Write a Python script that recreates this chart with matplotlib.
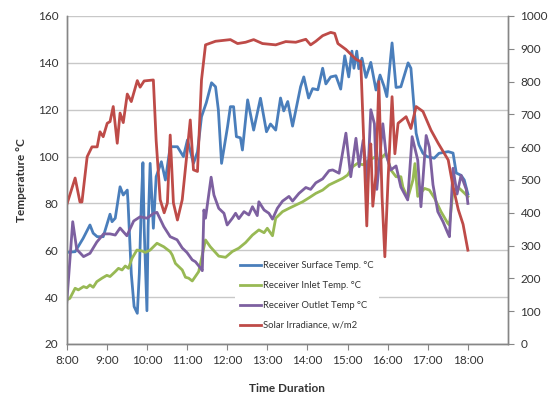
import matplotlib
matplotlib.use("Agg")
import matplotlib.pyplot as plt
from matplotlib.lines import Line2D

plt.rcParams['font.family'] = ['Lato', 'DejaVu Sans']

# Receiver surface temperature (deg C), time in decimal hours
surface_t = [8.00, 8.21, 8.41, 8.58, 8.66, 8.76, 8.91, 9.08, 9.13, 9.21, 9.33, 9.41, 9.51,
             9.53, 9.61, 9.68, 9.76, 9.81, 9.86, 9.90, 9.93, 10.00, 10.03, 10.08, 10.16,
             10.23, 10.36, 10.46, 10.58, 10.76, 10.91, 11.01, 11.16, 11.26, 11.36, 11.48,
             11.61, 11.71, 11.78, 11.86, 12.01, 12.08, 12.16, 12.23, 12.33, 12.38, 12.51,
             12.66, 12.83, 12.98, 13.08, 13.21, 13.33, 13.41, 13.51, 13.63, 13.83, 13.91,
             14.03, 14.13, 14.26, 14.38, 14.46, 14.58, 14.71, 14.83, 14.93, 15.03, 15.11,
             15.16, 15.23, 15.28, 15.36, 15.46, 15.58, 15.71, 15.81, 15.91, 15.98, 16.11,
             16.21, 16.33, 16.51, 16.58, 16.71, 16.78, 16.88, 16.98, 17.16, 17.28, 17.51,
             17.63, 17.71, 17.83, 17.91, 18.00]
surface_v = [59.1, 59.4, 65.1, 70.8, 67.3, 65.8, 65.8, 75.4, 72.2, 73.7, 87.1, 83.6, 85.7,
             80.0, 50.0, 36.0, 33.1, 50.0, 80.0, 97.4, 70.0, 34.2, 70.0, 97.1, 69.4,
             91.4, 97.8, 90.0, 104.2, 104.2, 100.0, 107.1, 97.1, 102.0, 117.0, 123.0,
             131.5, 129.8, 120.0, 97.1, 112.8, 121.3, 121.3, 108.5, 108.0, 102.8, 124.2,
             111.3, 124.9, 110.6, 113.9, 111.3, 125.0, 119.5, 123.5, 113.0, 129.8, 134.0,
             125.0, 129.0, 128.5, 137.7, 131.0, 134.0, 134.5, 128.8, 143.0, 134.0, 145.0,
             137.7, 145.0, 137.5, 142.0, 133.8, 140.2, 128.4, 134.8, 130.0, 125.6, 148.5,
             129.5, 129.8, 140.0, 137.7, 110.0, 105.0, 101.4, 100.0, 99.3, 101.4, 102.1,
             101.5, 93.0, 92.0, 90.0, 84.0]

# Receiver inlet temperature (deg C)
inlet_t = [8.00, 8.08, 8.21, 8.29, 8.42, 8.50, 8.58, 8.66, 8.75, 8.88, 9.00, 9.08, 9.21,
           9.29, 9.38, 9.46, 9.54, 9.63, 9.75, 9.88, 9.96, 10.08, 10.25, 10.42, 10.58,
           10.63, 10.71, 10.88, 10.96, 11.04, 11.13, 11.29, 11.46, 11.58, 11.79, 11.96,
           12.13, 12.29, 12.46, 12.63, 12.79, 12.92, 13.00, 13.13, 13.21, 13.38, 13.54,
           13.71, 13.88, 14.04, 14.21, 14.38, 14.54, 14.71, 14.88, 15.00, 15.13, 15.25,
           15.38, 15.54, 15.71, 15.79, 15.96, 16.08, 16.21, 16.33, 16.38, 16.50, 16.63,
           16.68, 16.75, 16.92, 17.04, 17.17, 17.33, 17.50, 17.54, 17.63, 17.79, 17.92,
           18.00]
inlet_v = [38.8, 39.5, 43.8, 43.1, 44.5, 44.0, 45.2, 44.2, 46.6, 48.1, 49.3, 48.8, 50.9,
           52.3, 51.6, 53.3, 52.3, 56.6, 60.1, 59.7, 59.1, 60.1, 63.0, 61.5, 59.4,
           58.0, 54.4, 51.6, 48.5, 48.1, 46.9, 50.9, 64.4, 61.5, 57.5, 57.0,
           59.5, 60.9, 63.3, 66.5, 68.7, 67.5, 69.4, 66.2, 73.7, 76.5, 77.9,
           79.3, 80.7, 82.4, 84.3, 85.7, 87.9, 89.3, 90.7, 92.1, 95.7, 97.1,
           96.5, 98.5, 100.0, 98.5, 101.4, 94.3, 91.4, 91.4, 87.0, 82.2, 90.0,
           97.0, 83.0, 86.4, 85.7, 82.2, 76.5, 71.5, 70.8, 85.7, 86.4, 84.3,
           82.9]

# Receiver outlet temperature (deg C)
outlet_t = [8.00, 8.15, 8.25, 8.42, 8.58, 8.75, 8.92, 9.08, 9.21, 9.33, 9.50, 9.67, 9.83,
            10.00, 10.17, 10.25, 10.42, 10.58, 10.75, 10.88, 11.00, 11.13, 11.21, 11.33,
            11.38, 11.42, 11.46, 11.60, 11.67, 11.79, 11.92, 12.00, 12.13, 12.21, 12.29,
            12.42, 12.54, 12.63, 12.75, 12.79, 12.92, 13.04, 13.13, 13.25, 13.38, 13.54,
            13.63, 13.79, 13.96, 14.08, 14.21, 14.38, 14.54, 14.63, 14.79, 14.96, 15.08,
            15.21, 15.29, 15.39, 15.50, 15.58, 15.67, 15.73, 15.88, 15.96, 16.08, 16.21,
            16.33, 16.50, 16.61, 16.75, 16.83, 16.96, 17.04, 17.13, 17.25, 17.38, 17.50,
            17.54, 17.63, 17.73, 17.83, 17.96, 18.00]
outlet_v = [37.4, 72.2, 60.4, 57.3, 58.7, 63.5, 67.0, 67.0, 66.5, 69.5, 66.2, 72.5, 74.3,
            73.7, 75.8, 76.2, 70.1, 65.8, 64.5, 61.0, 59.0, 55.9, 55.1, 52.5,
            51.3, 77.2, 73.7, 91.2, 83.6, 77.9, 75.8, 70.8, 73.7, 75.8, 73.5,
            76.5, 75.1, 78.6, 74.8, 80.7, 77.2, 75.8, 73.3, 77.9, 81.0, 83.0,
            81.0, 84.3, 86.8, 86.0, 88.8, 90.5, 94.0, 94.3, 92.9, 110.0, 91.4,
            107.8, 95.7, 107.0, 88.6, 120.0, 114.0, 86.0, 114.0, 101.0, 94.3, 96.0,
            87.0, 81.5, 108.5, 98.5, 78.6, 109.0, 104.0, 88.0, 76.5, 72.2, 67.3,
            65.8, 95.0, 84.0, 92.0, 86.0, 80.0]

# Solar irradiance (W/m2)
solar_t = [8.00, 8.21, 8.33, 8.38, 8.51, 8.63, 8.76, 8.83, 8.91, 9.01, 9.08, 9.16, 9.26,
           9.33, 9.41, 9.51, 9.61, 9.76, 9.83, 9.93, 10.16, 10.23, 10.33, 10.43, 10.51,
           10.58, 10.66, 10.76, 10.88, 10.98, 11.08, 11.16, 11.26, 11.36, 11.46, 11.71,
           12.08, 12.26, 12.46, 12.66, 12.88, 13.21, 13.46, 13.71, 13.96, 14.08, 14.21,
           14.38, 14.58, 14.68, 14.76, 14.96, 15.21, 15.33, 15.41, 15.48, 15.53, 15.58,
           15.63, 15.71, 15.78, 15.86, 15.93, 16.01, 16.11, 16.18, 16.26, 16.46, 16.58,
           16.71, 16.88, 17.08, 17.26, 17.51, 17.63, 17.76, 17.88, 18.00]
solar_v = [424, 506, 433, 433, 571, 601, 601, 647, 632, 673, 678, 724, 612,
           704, 675, 762, 739, 803, 783, 802, 805, 620, 440, 400, 430,
           637, 430, 378, 440, 560, 683, 531, 526, 805, 912, 923,
           928, 916, 920, 928, 916, 912, 922, 920, 929, 912, 923,
           940, 950, 947, 916, 898, 868, 861, 600, 360, 550, 610,
           420, 520, 800, 450, 266, 500, 754, 580, 673, 693, 657,
           724, 709, 652, 612, 561, 480, 410, 365, 286]

hour_ticks = list(range(8, 19))
hour_labels = [f"{h}:00" for h in hour_ticks]
temp_ticks = list(range(20, 161, 20))
solar_ticks = list(range(0, 1001, 100))

labels = ["Receiver Surface Temp. °C", "Receiver Inlet Temp. °C",
          "Receiver Outlet Temp °C", "Solar Irradiance, w/m2"]
colors = ["#4A7EBB", "#98B954", "#7D60A0", "#BE4B48"]

text_col = "#333333"
axis_col = "#868686"
grid_col = "#C8C8C8"

fig = plt.figure(figsize=(5.5, 3.96), dpi=100)
ax = fig.add_axes([66.7 / 550, 52 / 396, (508 - 66.7) / 550, 328 / 396])
ax2 = ax.twinx()

lw = 2.0
ax.plot(surface_t, surface_v, color=colors[0], lw=lw, solid_joinstyle='round')
ax.plot(inlet_t, inlet_v, color=colors[1], lw=lw, solid_joinstyle='round')
ax.plot(outlet_t, outlet_v, color=colors[2], lw=lw, solid_joinstyle='round')
ax2.plot(solar_t, solar_v, color=colors[3], lw=lw, solid_joinstyle='round')

ax.set_xlim(8, 19)
ax.set_ylim(20, 160)
ax2.set_ylim(0, 1000)
ax.set_xticks(hour_ticks)
ax.set_xticklabels(hour_labels)
ax.set_yticks(temp_ticks)
ax2.set_yticks(solar_ticks)

ax.yaxis.grid(True, color=grid_col, lw=1.0)
ax.set_axisbelow(True)

for a in (ax, ax2):
    a.spines["top"].set_visible(False)
    for side in ("left", "right", "bottom"):
        a.spines[side].set_color(axis_col)
        a.spines[side].set_linewidth(1.0)

ax.tick_params(axis='y', length=0, labelsize=8.5, labelcolor=text_col, pad=6)
ax.tick_params(axis='x', direction='out', length=4, color=axis_col,
               labelsize=8.5, labelcolor=text_col, pad=4)
ax2.tick_params(axis='y', direction='out', length=4, color=axis_col,
                labelsize=8.5, labelcolor=text_col, pad=5)

ax.set_ylabel("Temperature °C", fontsize=8.5, fontweight='bold', color=text_col, labelpad=8)
ax.set_xlabel("Time Duration", fontsize=8.5, fontweight='bold', color=text_col, labelpad=12)

handles = [Line2D([0], [0], color=c, lw=lw) for c in colors]
leg = ax2.legend(handles, labels, loc='lower left', bbox_to_anchor=(0.371, 0.014),
                 fontsize=6.8, frameon=True, facecolor='white', edgecolor='none',
                 framealpha=1.0, fancybox=False, handlelength=2.2, handletextpad=0.3,
                 labelspacing=1.15, borderpad=0.5)
for t in leg.get_texts():
    t.set_color(text_col)

fig.savefig("out.png", dpi=100)
